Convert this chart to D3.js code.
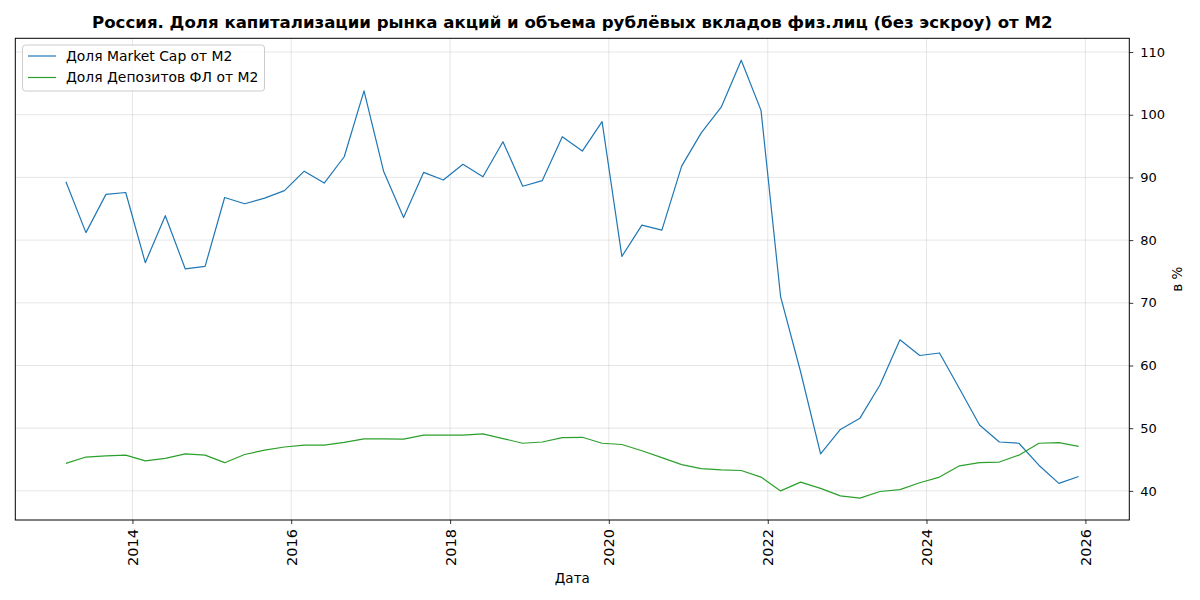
<!DOCTYPE html>
<html><head><meta charset="utf-8">
<script src="https://cdn.jsdelivr.net/npm/d3@7"></script>
<style>
body{margin:0;background:#fff;}
svg{font-family:"DejaVu Sans",sans-serif;}
</style></head>
<body><svg id="c" width="1200" height="600"></svg>
<script>
const title = "Россия. Доля капитализации рынка акций и объема рублёвых вкладов физ.лиц (без эскроу) от М2";
const seriesNames = ["Доля Market Cap от М2", "Доля Депозитов ФЛ от М2"];
const seriesColors = ["#1f77b4", "#2ca02c"];
const xLabel = "Дата";
const yLabel = "в %";

// quarterly dates, 2013-03 .. 2025-12
const dates = [
 "2013-03","2013-06","2013-09","2013-12",
 "2014-03","2014-06","2014-09","2014-12",
 "2015-03","2015-06","2015-09","2015-12",
 "2016-03","2016-06","2016-09","2016-12",
 "2017-03","2017-06","2017-09","2017-12",
 "2018-03","2018-06","2018-09","2018-12",
 "2019-03","2019-06","2019-09","2019-12",
 "2020-03","2020-06","2020-09","2020-12",
 "2021-03","2021-06","2021-09","2021-12",
 "2022-03","2022-06","2022-09","2022-12",
 "2023-03","2023-06","2023-09","2023-12",
 "2024-03","2024-06","2024-09","2024-12",
 "2025-03","2025-06","2025-09","2025-12"
];
const marketCap = [
 89.3,81.2,87.3,87.6,
 76.4,83.9,75.4,75.8,
 86.8,85.8,86.7,87.9,
 91.0,89.1,93.3,103.8,
 91.0,83.6,90.8,89.6,
 92.1,90.1,95.7,88.6,
 89.5,96.5,94.2,98.9,
 77.4,82.4,81.6,91.8,
 97.1,101.2,108.7,100.7,
 71.0,59.0,45.9,49.8,
 51.6,56.9,64.1,61.6,
 62.0,56.3,50.5,47.8,
 47.6,44.1,41.2,42.3
];
const deposits = [
 44.4,45.4,45.6,45.7,
 44.8,45.2,45.9,45.7,
 44.5,45.8,46.5,47.0,
 47.3,47.3,47.75,48.3,
 48.3,48.25,48.9,48.9,
 48.9,49.1,48.35,47.6,
 47.8,48.5,48.55,47.6,
 47.4,46.4,45.3,44.2,
 43.55,43.35,43.25,42.2,
 40.0,41.4,40.4,39.2,
 38.85,39.9,40.2,41.3,
 42.2,44.0,44.5,44.6,
 45.7,47.6,47.7,47.1
];
const yTicks = [40,50,60,70,80,90,100,110];
const xTickYears = [2014,2016,2018,2020,2022,2024,2026];

const parse = d3.timeParse("%Y-%m");
const T = dates.map(parse);
const svg = d3.select("#c");
const m = {l:15.3, r:1129.3, t:38.3, b:520};

const tExt = d3.extent(T);
const tPad = (tExt[1]-tExt[0])*0.05;
const x = d3.scaleTime().domain([new Date(+tExt[0]-tPad), new Date(+tExt[1]+tPad)]).range([m.l, m.r]);
const allV = marketCap.concat(deposits);
const vExt = d3.extent(allV);
const vPad = (vExt[1]-vExt[0])*0.05;
const y = d3.scaleLinear().domain([vExt[0]-vPad, vExt[1]+vPad]).range([m.b, m.t]);

// grid
const g = svg.append("g");
const xTicks = xTickYears.map(yr => new Date(yr,0,1));
g.selectAll(".gx").data(xTicks).enter().append("line")
 .attr("x1",d=>x(d)).attr("x2",d=>x(d)).attr("y1",m.t).attr("y2",m.b)
 .attr("stroke","#b0b0b0").attr("stroke-opacity",0.4).attr("stroke-width",0.8);
g.selectAll(".gy").data(yTicks).enter().append("line")
 .attr("y1",d=>y(d)).attr("y2",d=>y(d)).attr("x1",m.l).attr("x2",m.r)
 .attr("stroke","#b0b0b0").attr("stroke-opacity",0.4).attr("stroke-width",0.8);

// lines
const series = [marketCap, deposits];
series.forEach((vals,i)=>{
  const line = d3.line().x((d,j)=>x(T[j])).y(d=>y(d));
  svg.append("path").datum(vals).attr("d",line).attr("fill","none")
   .attr("stroke",seriesColors[i]).attr("stroke-width",1.2).attr("stroke-linejoin","round");
});

// axes
const xAxis = d3.axisBottom(x).tickValues(xTicks).tickFormat(d3.timeFormat("%Y")).tickSize(4).tickPadding(3);
const xa = svg.append("g").attr("transform",`translate(0,${m.b})`).call(xAxis);
xa.select(".domain").remove();
xa.selectAll(".tick line").attr("stroke","#000").attr("stroke-width",0.8);
xa.selectAll(".tick text").attr("font-size",14.5).attr("fill","#000")
  .attr("font-family","DejaVu Sans")
  .attr("transform","rotate(-90)").attr("text-anchor","end")
  .attr("x",-9).attr("y",0).attr("dy","0.35em");

const yAxis = d3.axisRight(y).tickValues(yTicks).tickSize(4).tickPadding(7);
const ya = svg.append("g").attr("transform",`translate(${m.r},0)`).call(yAxis);
ya.select(".domain").remove();
ya.selectAll(".tick line").attr("stroke","#000").attr("stroke-width",0.8);
ya.selectAll(".tick text").attr("font-size",13).attr("fill","#000").attr("font-family","DejaVu Sans");

// frame
svg.append("rect").attr("x",m.l).attr("y",m.t).attr("width",m.r-m.l).attr("height",m.b-m.t)
 .attr("fill","none").attr("stroke","#000").attr("stroke-width",1);

// labels
svg.append("text").attr("x",(m.l+m.r)/2).attr("y",28).attr("text-anchor","middle")
 .attr("font-size",16.6).attr("font-weight","bold").attr("fill","#000").text(title);
svg.append("text").attr("x",(m.l+m.r)/2).attr("y",583).attr("text-anchor","middle")
 .attr("font-size",13.5).attr("fill","#000").text(xLabel);
svg.append("text").attr("transform",`translate(1182,${(m.t+m.b)/2}) rotate(-90)`).attr("text-anchor","middle")
 .attr("font-size",13.5).attr("fill","#000").text(yLabel);

// legend
const lg = svg.append("g");
lg.append("rect").attr("x",22.5).attr("y",45).attr("width",242).attr("height",46).attr("rx",3)
 .attr("fill","#fff").attr("fill-opacity",0.8).attr("stroke","#cccccc").attr("stroke-width",1);
seriesNames.forEach((n,i)=>{
  const yy = 56 + i*21.5;
  lg.append("line").attr("x1",28).attr("x2",56).attr("y1",yy).attr("y2",yy)
    .attr("stroke",seriesColors[i]).attr("stroke-width",1.2);
  lg.append("text").attr("x",66).attr("y",yy).attr("dy","0.35em").attr("font-size",13.9)
    .attr("fill","#000").text(n);
});
</script></body></html>
